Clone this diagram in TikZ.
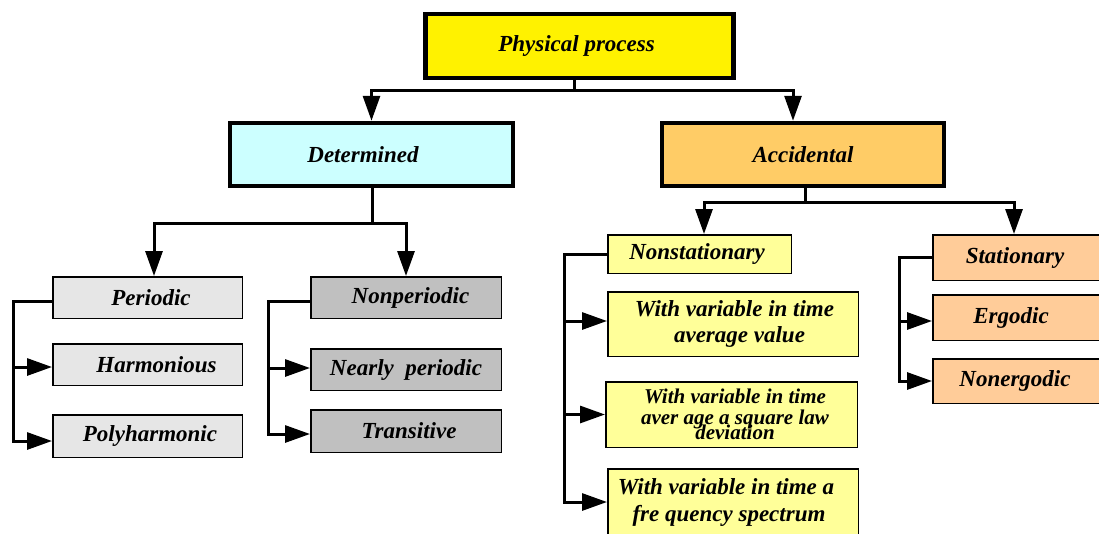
\documentclass[tikz,border=0pt]{standalone}
\usepackage{fontspec}
\setmainfont{Liberation Serif}
\usetikzlibrary{arrows.meta}
\definecolor{detfill}{HTML}{CCFFFF}
\definecolor{accfill}{HTML}{FFCC66}
\definecolor{grayA}{HTML}{E6E6E6}
\definecolor{grayB}{HTML}{C0C0C0}
\definecolor{yellowlt}{HTML}{FFFF99}
\definecolor{orangelt}{HTML}{FFCC99}
\begin{document}
\begin{tikzpicture}[x=1pt,y=-1pt,
  box/.style={draw=black, rectangle, inner sep=0pt, align=center,
    font=\fontsize{23}{26}\selectfont\bfseries\itshape},
  bigbox/.style={box, line width=4.5pt},
  smallbox/.style={box, line width=1.5pt},
  conn/.style={line width=3pt},
  arr/.style={conn, -{Triangle[length=25pt,width=17pt]}},
]
\useasboundingbox (0,0) rectangle (1099,533);
\clip (0,0) rectangle (1099,533);

% level 0 and 1
\node[bigbox, fill=yellow, minimum width=308pt, minimum height=64pt] (phys) at (579.5,46) {Physical process\hspace*{6pt}};
\node[bigbox, fill=detfill, minimum width=283pt, minimum height=63pt] (det) at (371.5,154.5) {Determined\hspace*{17pt}};
\node[bigbox, fill=accfill, minimum width=282pt, minimum height=63pt] (acc) at (803,154.5) {Accidental};

% determined subtree
\node[smallbox, fill=grayA, minimum width=189.5pt, minimum height=41.5pt] (per) at (147.5,297.5) {\hspace*{7pt}Periodic};
\node[smallbox, fill=grayA, minimum width=189.5pt, minimum height=41.5pt] (harm) at (147.5,364.5) {\hspace*{18pt}Harmonious};
\node[smallbox, fill=grayA, minimum width=189.5pt, minimum height=42.5pt] (poly) at (147.5,436) {\hspace*{5pt}Polyharmonic};
\node[smallbox, fill=grayB, minimum width=190.5pt, minimum height=41.5pt] (nonper) at (406,297.5) {\hspace*{9pt}Nonperiodic};
\node[smallbox, fill=grayB, minimum width=190.5pt, minimum height=41.5pt] (near) at (406,369.5) {Nearly\ \ periodic};
\node[smallbox, fill=grayB, minimum width=190.5pt, minimum height=42.5pt] (trans) at (406,431) {\hspace*{6pt}Transitive};

% accidental subtree
\node[smallbox, fill=yellowlt, minimum width=183.5pt, minimum height=38.5pt] (nonst) at (699.5,254) {Nonstationary\hspace*{5pt}};
\node[smallbox, fill=yellowlt, minimum width=250.5pt, minimum height=64.5pt] (avg) at (733,324) {\hspace*{3pt}With variable in time\\\hspace*{13pt}average value};
\node[smallbox, fill=yellowlt, minimum width=251.5pt, minimum height=65.5pt,
  font=\fontsize{21}{21}\selectfont\bfseries\itshape] (dev) at (731.5,414.5) {\hspace*{7pt}With variable in time\\\hspace*{7pt}aver age a square law\\[-6pt]\hspace*{7pt}deviation};
\node[smallbox, fill=yellowlt, minimum width=250.5pt, minimum height=66.5pt,
  font=\fontsize{23}{27}\selectfont\bfseries\itshape] (spec) at (733,502) {With variable in time a\hspace*{14pt}\\fre quency spectrum\hspace*{8pt}};
\node[smallbox, fill=orangelt, minimum width=168.5pt, minimum height=45.5pt] (stat) at (1017,257.5) {Stationary\hspace*{4pt}};
\node[smallbox, fill=orangelt, minimum width=168.5pt, minimum height=45.5pt] (ergo) at (1017,317.5) {Ergodic\hspace*{12pt}};
\node[smallbox, fill=orangelt, minimum width=168.5pt, minimum height=44.5pt] (nonerg) at (1017,381) {Nonergodic\hspace*{4pt}};

% connectors: top
\coordinate (j0) at (574,90);
\draw[conn] (phys.south -| j0) -- (j0);
\draw[arr] (j0) -| (det.north);
\draw[arr] (j0) -| ([xshift=-10pt]acc.north);

% determined branch
\coordinate (j1) at (372,223);
\draw[conn] (det.south -| j1) -- (j1);
\draw[arr] (j1) -| ([xshift=6.5pt]per.north);
\draw[arr] (j1) -| (nonper.north);

% accidental branch
\coordinate (j2) at (805,202);
\draw[conn] (acc.south -| j2) -- (j2);
\draw[arr] (j2) -| ([xshift=4.5pt]nonst.north);
\draw[arr] (j2) -| ([xshift=-3pt]stat.north);

% side buses
\coordinate (b1) at (13,0);
\coordinate (b2) at (268,0);
\coordinate (b3) at (564,0);
\coordinate (b4) at (899,0);

\draw[arr] ([yshift=-3.5pt]per.west) -| ([yshift=-5pt]poly.west -| b1) -- ([yshift=-5pt]poly.west);
\draw[arr] ([yshift=-2.5pt]harm.west -| b1) -- ([yshift=-2.5pt]harm.west);

\draw[arr] ([yshift=-3.5pt]nonper.west) -| ([yshift=-3pt]trans.west -| b2) -- ([yshift=-3pt]trans.west);
\draw[arr] ([yshift=1.5pt]near.west -| b2) -- ([yshift=1.5pt]near.west);

\draw[arr] (nonst.west) -| (spec.west -| b3) -- (spec.west);
\draw[arr] ([yshift=3pt]avg.west -| b3) -- ([yshift=3pt]avg.west);
\draw[arr] (dev.west -| b3) -- (dev.west);

\draw[arr] (stat.west) -| (nonerg.west -| b4) -- (nonerg.west);
\draw[arr] ([yshift=-3.5pt]ergo.west -| b4) -- ([yshift=-3.5pt]ergo.west);
\end{tikzpicture}
\end{document}
